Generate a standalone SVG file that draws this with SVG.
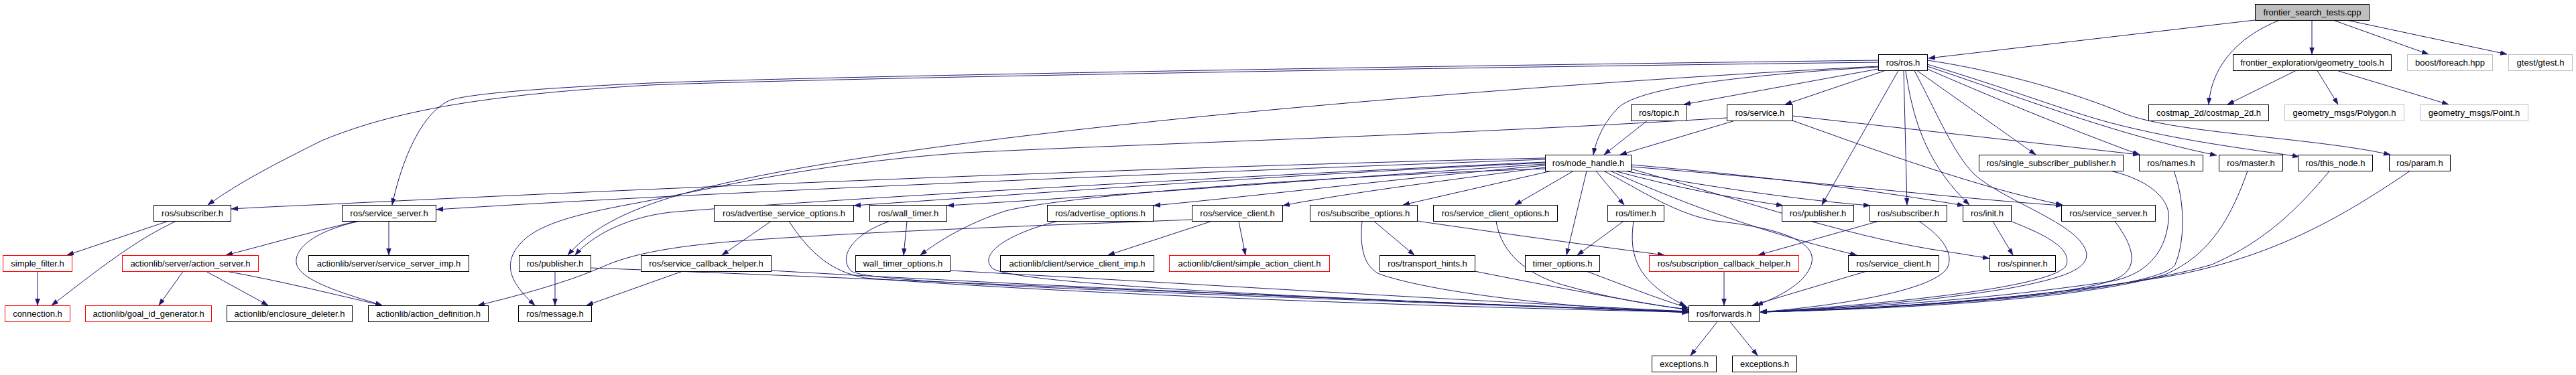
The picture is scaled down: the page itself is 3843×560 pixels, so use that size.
<svg xmlns="http://www.w3.org/2000/svg" width="3843" height="560" viewBox="0 0 3843 560">
<style>
.n rect{fill:#fff;stroke:#000;stroke-width:1}
.root rect{fill:#bfbfbf}
.red rect{stroke:#ff0000}
.gray rect{stroke:#bfbfbf}
.n text{font-family:"Liberation Sans",Arial,sans-serif;font-size:13px;text-anchor:middle;fill:#000}
.e path{fill:none;stroke:#191970;stroke-width:1;marker-end:url(#a)}
</style>
<defs>
<marker id="a" markerUnits="userSpaceOnUse" markerWidth="11" markerHeight="8" refX="10" refY="3.5" orient="auto">
<path d="M0,0 L10,3.5 L0,7 z" fill="#191970" stroke="#191970" stroke-width="0.5"/>
</marker>
</defs>
<rect width="3843" height="560" fill="#fff"/>
<g id="edges" class="e">
<path d="M3364,30 L2877,87"/>
<path d="M3400,30.5 C3350,50 3300,90 3295,156"/>
<path d="M3449,30.5 L3449,81"/>
<path d="M3482,30.5 L3623,81"/>
<path d="M3503,30.5 L3740,81"/>
<path d="M3425,105.5 L3323,156"/>
<path d="M3457,105.5 L3488,156"/>
<path d="M3487,105.5 L3653,156"/>
<path d="M2802,103 L2512,156"/>
<path d="M2812,105.5 L2663,156"/>
<path d="M2802,100 C2600,112 2450,130 2415,160 C2395,180 2382,205 2377,231"/>
<path d="M2832,105.5 L2718,306"/>
<path d="M2840,105.5 L2845,306"/>
<path d="M2860,105.5 L3037,231"/>
<path d="M2875,103 C2960,140 3080,190 3192,231"/>
<path d="M2875,99 C3000,140 3150,200 3307,232"/>
<path d="M2875,96 C2990,130 3080,165 3147,183 C3250,210 3350,222 3430,234"/>
<path d="M2875,90 C2980,105 3100,140 3170,170 C3250,200 3450,205 3566,231"/>
<path d="M2843,105.5 C2855,190 2880,250 2938,306"/>
<path d="M2856,105.5 C2890,170 2915,230 2945,260 C2990,300 3090,330 3110,370 C3125,400 3080,415 3000,430 C2850,455 2700,462 2626,466"/>
<path d="M2802,99 C2300,125 1600,180 1200,250 C1000,285 900,320 847,381"/>
<path d="M2802,90 C2000,100 1200,115 970,124 C800,132 700,140 670,150 C620,175 595,260 585,306"/>
<path d="M2802,93 C2000,103 1200,118 970,127 C750,140 600,160 480,210 C420,240 360,270 310,306"/>
<path d="M2587,180.5 L2417,231"/>
<path d="M2457,180.5 L2393,231"/>
<path d="M2674,173 L3192,231"/>
<path d="M2576,176 C2200,200 1700,215 1440,228 C1200,245 1050,285 940,305 C860,320 800,335 775,365 C745,400 770,430 798,456"/>
<path d="M2674,180 C2800,225 2950,280 3077,306"/>
<path d="M2305,236 C1700,250 1000,280 490,305 C420,308 380,310 345,312"/>
<path d="M2305,238 C1700,260 1000,290 651,313"/>
<path d="M2305,242 C1800,265 1200,300 1000,317 C930,325 880,355 858,381"/>
<path d="M2305,243 C1900,262 1600,285 1274,307"/>
<path d="M2305,245 C2000,265 1700,290 1413,307"/>
<path d="M2305,247 C2100,265 1900,290 1721,307"/>
<path d="M2305,250 C2150,270 2000,290 1914,307"/>
<path d="M2313,255.5 L2093,306"/>
<path d="M2347,255.5 L2260,306"/>
<path d="M2367,255.5 L2337,381"/>
<path d="M2381,255.5 L2423,306"/>
<path d="M2305,252 C2000,262 1600,290 1500,315 C1440,335 1400,360 1373,381"/>
<path d="M2393,255.5 C2450,285 2500,320 2560,330 C2650,340 2720,360 2700,400 C2690,425 2650,445 2620,456"/>
<path d="M2403,255.5 C2480,290 2600,340 2770,381"/>
<path d="M2410,255.5 C2500,280 2580,295 2660,307"/>
<path d="M2423,255 C2550,280 2700,300 2790,307"/>
<path d="M2433,246 C2650,265 2800,285 2930,307"/>
<path d="M2433,249 C2700,270 2900,295 3077,307"/>
<path d="M2433,252 C2600,300 2750,350 2880,372 C2920,378 2950,383 2968,386"/>
<path d="M250,330.5 L100,381"/>
<path d="M262,330.5 C200,360 150,400 77,456"/>
<path d="M56,405.5 L56,456"/>
<path d="M532,330.5 C450,350 400,365 337,381"/>
<path d="M580,330.5 L580,381"/>
<path d="M535,330.5 C470,345 440,370 442,392 C445,420 520,440 570,456"/>
<path d="M273,405.5 L237,456"/>
<path d="M308,405.5 L400,456"/>
<path d="M340,405.5 C420,420 500,440 570,456"/>
<path d="M828,405.5 L828,456"/>
<path d="M881,400 C1400,420 2200,455 2519,466"/>
<path d="M1017,405.5 L875,456"/>
<path d="M1150,404 C1600,430 2200,455 2519,465"/>
<path d="M1150,330.5 L1077,381"/>
<path d="M1177,330.5 C1210,380 1240,405 1290,415 C1600,440 2200,460 2519,466"/>
<path d="M1353,330.5 L1348,381"/>
<path d="M1327,330.5 C1270,350 1250,385 1270,405 C1300,420 1500,430 2519,466"/>
<path d="M1417,404 C1800,425 2200,450 2519,465"/>
<path d="M1577,330.5 C1500,350 1460,380 1480,400 C1500,420 1800,440 2519,466"/>
<path d="M1807,330.5 L1653,381"/>
<path d="M1848,330.5 L1858,381"/>
<path d="M1778,328 C1600,335 1300,345 1100,360 C1000,368 940,380 900,398 C850,420 780,440 713,456"/>
<path d="M2050,330.5 L2110,381"/>
<path d="M2032,330.5 C2028,370 2035,400 2060,410 C2150,440 2350,460 2519,467"/>
<path d="M2114,330 C2250,350 2400,370 2483,381"/>
<path d="M2232,330.5 C2240,380 2280,410 2330,425 C2400,445 2460,455 2519,462"/>
<path d="M2200,405 C2300,425 2420,448 2519,463"/>
<path d="M2368,405.5 C2420,425 2470,445 2519,460"/>
<path d="M2422,330.5 L2353,381"/>
<path d="M2437,330.5 C2430,380 2440,420 2515,457"/>
<path d="M2802,330.5 L2623,381"/>
<path d="M2863,330.5 C2900,355 2915,380 2905,400 C2880,440 2700,460 2626,466"/>
<path d="M2973,330.5 L3003,381"/>
<path d="M3000,330.5 C3050,350 3090,370 3083,395 C3070,430 2800,455 2626,466"/>
<path d="M3155,330.5 C3185,370 3190,400 3160,415 C3100,445 2800,460 2626,466"/>
<path d="M3150,255.5 C3210,270 3240,300 3235,330 C3230,380 3200,410 3150,420 C2950,450 2750,460 2626,466"/>
<path d="M3243,255.5 C3260,300 3260,360 3245,395 C3230,425 3000,455 2626,466"/>
<path d="M3353,255.5 C3330,320 3300,380 3230,410 C3100,450 2800,462 2626,466"/>
<path d="M3475,255.5 C3430,310 3380,360 3300,395 C3150,440 2800,462 2626,466"/>
<path d="M3595,255.5 C3500,320 3400,380 3250,410 C3050,445 2800,462 2626,466"/>
<path d="M2572,405.5 L2572,456"/>
<path d="M2783,405.5 L2614,456"/>
<path d="M2562,480.5 L2522,531"/>
<path d="M2581,480.5 L2622,531"/>
</g>
<g id="n_cpp" class="n root"><rect x="3364.5" y="6.5" width="170" height="24"/><text x="3449.5" y="23">frontier_search_tests.cpp</text></g>
<g id="n_ros" class="n"><rect x="2802.5" y="81.5" width="73" height="24"/><text x="2839" y="98">ros/ros.h</text></g>
<g id="n_geom" class="n"><rect x="3331.5" y="81.5" width="236" height="24"/><text x="3449.5" y="98">frontier_exploration/geometry_tools.h</text></g>
<g id="n_boost" class="n gray"><rect x="3591.5" y="81.5" width="127" height="24"/><text x="3655" y="98">boost/foreach.hpp</text></g>
<g id="n_gtest" class="n gray"><rect x="3742.5" y="81.5" width="95" height="24"/><text x="3790" y="98">gtest/gtest.h</text></g>
<g id="n_topic" class="n"><rect x="2433.5" y="156.5" width="83" height="24"/><text x="2475" y="173">ros/topic.h</text></g>
<g id="n_service" class="n"><rect x="2576.5" y="156.5" width="98" height="24"/><text x="2625.5" y="173">ros/service.h</text></g>
<g id="n_costmap" class="n"><rect x="3205.5" y="156.5" width="179" height="24"/><text x="3295" y="173">costmap_2d/costmap_2d.h</text></g>
<g id="n_polygon" class="n gray"><rect x="3408.5" y="156.5" width="178" height="24"/><text x="3497.5" y="173">geometry_msgs/Polygon.h</text></g>
<g id="n_point" class="n gray"><rect x="3610.5" y="156.5" width="161" height="24"/><text x="3691" y="173">geometry_msgs/Point.h</text></g>
<g id="n_nodehandle" class="n"><rect x="2305.5" y="231.5" width="128" height="24"/><text x="2369.5" y="248">ros/node_handle.h</text></g>
<g id="n_sspub" class="n"><rect x="2952.5" y="231.5" width="215" height="24"/><text x="3060" y="248">ros/single_subscriber_publisher.h</text></g>
<g id="n_names" class="n"><rect x="3191.5" y="231.5" width="95" height="24"/><text x="3239" y="248">ros/names.h</text></g>
<g id="n_master" class="n"><rect x="3310.5" y="231.5" width="95" height="24"/><text x="3358" y="248">ros/master.h</text></g>
<g id="n_thisnode" class="n"><rect x="3428.5" y="231.5" width="111" height="24"/><text x="3484" y="248">ros/this_node.h</text></g>
<g id="n_param" class="n"><rect x="3564.5" y="231.5" width="91" height="24"/><text x="3610" y="248">ros/param.h</text></g>
<g id="n_subscriber_l" class="n"><rect x="229.5" y="306.5" width="115" height="24"/><text x="287" y="323">ros/subscriber.h</text></g>
<g id="n_srvserver_l" class="n"><rect x="510.5" y="306.5" width="140" height="24"/><text x="580.5" y="323">ros/service_server.h</text></g>
<g id="n_advsrvopts" class="n"><rect x="1065.5" y="306.5" width="208" height="24"/><text x="1169.5" y="323">ros/advertise_service_options.h</text></g>
<g id="n_walltimer" class="n"><rect x="1297.5" y="306.5" width="115" height="24"/><text x="1355" y="323">ros/wall_timer.h</text></g>
<g id="n_advopts" class="n"><rect x="1562.5" y="306.5" width="158" height="24"/><text x="1641.5" y="323">ros/advertise_options.h</text></g>
<g id="n_srvclient_l" class="n"><rect x="1778.5" y="306.5" width="135" height="24"/><text x="1846" y="323">ros/service_client.h</text></g>
<g id="n_subopts" class="n"><rect x="1954.5" y="306.5" width="160" height="24"/><text x="2034.5" y="323">ros/subscribe_options.h</text></g>
<g id="n_srvclientopts" class="n"><rect x="2138.5" y="306.5" width="185" height="24"/><text x="2231" y="323">ros/service_client_options.h</text></g>
<g id="n_timer" class="n"><rect x="2398.5" y="306.5" width="84" height="24"/><text x="2440.5" y="323">ros/timer.h</text></g>
<g id="n_publisher_r" class="n"><rect x="2658.5" y="306.5" width="107" height="24"/><text x="2712" y="323">ros/publisher.h</text></g>
<g id="n_subscriber_r" class="n"><rect x="2789.5" y="306.5" width="115" height="24"/><text x="2847" y="323">ros/subscriber.h</text></g>
<g id="n_init" class="n"><rect x="2928.5" y="306.5" width="72" height="24"/><text x="2964.5" y="323">ros/init.h</text></g>
<g id="n_srvserver_r" class="n"><rect x="3075.5" y="306.5" width="140" height="24"/><text x="3145.5" y="323">ros/service_server.h</text></g>
<g id="n_simplefilter" class="n red"><rect x="4.5" y="381.5" width="103" height="24"/><text x="56" y="398">simple_filter.h</text></g>
<g id="n_actionserver" class="n red"><rect x="182.5" y="381.5" width="203" height="24"/><text x="284" y="398">actionlib/server/action_server.h</text></g>
<g id="n_srvserverimp" class="n"><rect x="460.5" y="381.5" width="239" height="24"/><text x="580" y="398">actionlib/server/service_server_imp.h</text></g>
<g id="n_publisher_l" class="n"><rect x="774.5" y="381.5" width="107" height="24"/><text x="828" y="398">ros/publisher.h</text></g>
<g id="n_srvcbhelper" class="n"><rect x="956.5" y="381.5" width="194" height="24"/><text x="1053.5" y="398">ros/service_callback_helper.h</text></g>
<g id="n_walltimeropts" class="n"><rect x="1276.5" y="381.5" width="141" height="24"/><text x="1347" y="398">wall_timer_options.h</text></g>
<g id="n_srvclientimp" class="n"><rect x="1492.5" y="381.5" width="229" height="24"/><text x="1607" y="398">actionlib/client/service_client_imp.h</text></g>
<g id="n_simpleac" class="n red"><rect x="1744.5" y="381.5" width="239" height="24"/><text x="1864" y="398">actionlib/client/simple_action_client.h</text></g>
<g id="n_transport" class="n"><rect x="2058.5" y="381.5" width="142" height="24"/><text x="2129.5" y="398">ros/transport_hints.h</text></g>
<g id="n_timeropts" class="n"><rect x="2275.5" y="381.5" width="111" height="24"/><text x="2331" y="398">timer_options.h</text></g>
<g id="n_subcbhelper" class="n red"><rect x="2460.5" y="381.5" width="223" height="24"/><text x="2572" y="398">ros/subscription_callback_helper.h</text></g>
<g id="n_srvclient_r" class="n"><rect x="2757.5" y="381.5" width="135" height="24"/><text x="2825" y="398">ros/service_client.h</text></g>
<g id="n_spinner" class="n"><rect x="2968.5" y="381.5" width="98" height="24"/><text x="3017.5" y="398">ros/spinner.h</text></g>
<g id="n_connection" class="n red"><rect x="7.5" y="456.5" width="97" height="24"/><text x="56" y="473">connection.h</text></g>
<g id="n_goalid" class="n red"><rect x="127.5" y="456.5" width="188" height="24"/><text x="221.5" y="473">actionlib/goal_id_generator.h</text></g>
<g id="n_enclosure" class="n"><rect x="338.5" y="456.5" width="187" height="24"/><text x="432" y="473">actionlib/enclosure_deleter.h</text></g>
<g id="n_actiondef" class="n"><rect x="549.5" y="456.5" width="179" height="24"/><text x="639" y="473">actionlib/action_definition.h</text></g>
<g id="n_message" class="n"><rect x="773.5" y="456.5" width="109" height="24"/><text x="828" y="473">ros/message.h</text></g>
<g id="n_forwards" class="n"><rect x="2519.5" y="456.5" width="105" height="24"/><text x="2572" y="473">ros/forwards.h</text></g>
<g id="n_exceptions1" class="n"><rect x="2464.5" y="531.5" width="96" height="24"/><text x="2512.5" y="548">exceptions.h</text></g>
<g id="n_exceptions2" class="n"><rect x="2584.5" y="531.5" width="96" height="24"/><text x="2632.5" y="548">exceptions.h</text></g>
</svg>
